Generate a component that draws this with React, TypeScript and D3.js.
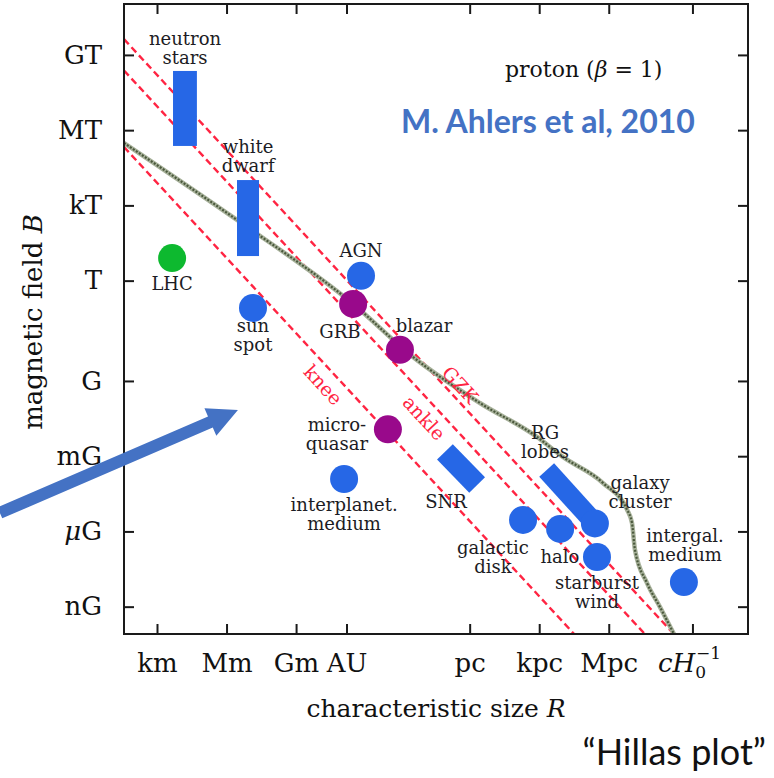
import * as d3 from "d3";

// axis ticks: log10 of B in gauss, log10 of R in metres
const yTickLabels = ["GT", "MT", "kT", "T", "G", "mG", "μG", "nG"];
const yTickLogB = [13, 10, 7, 4, 0, -3, -6, -9];
const xTickLabels = ["km", "Mm", "Gm", "AU", "pc", "kpc", "Mpc", "cH0"];
const xTickLogR = [3, 6, 9, 11.175, 16.489, 19.489, 22.489, 26.1];

// Hillas limits, log10(E / eV)
const limitNames = ["knee", "ankle", "GZK"];
const limitLogE = [15.38, 18.43, 19.68];
const limitLabelR = [10.14, 14.5, 16.05];
const limitLabelB = [-0.14, -1.46, -0.14];

// energy-loss curve
const lossR = [1.555, 6.43, 11.44, 14.02, 16.91, 19.37, 20.49, 22.22, 23.26, 23.47, 23.6, 24.12, 24.68, 25.28];
const lossB = [9.51, 6.44, 3.09, 0.98, -0.86, -2.21, -3.01, -4.05, -5.12, -5.64, -6.72, -8.04, -9.0, -10.07];

// compact objects as boxes
const boxNames = ["neutron stars", "white dwarf"];
const boxR0 = [3.67, 6.43];
const boxR1 = [4.7, 7.38];
const boxB0 = [9.39, 5.0];
const boxB1 = [12.38, 8.03];

// extended objects drawn as tilted bands
const bandNames = ["SNR", "RG lobes"];
const bandR0 = [15.4, 19.79];
const bandB0 = [-2.81, -3.53];
const bandR1 = [16.79, 21.66];
const bandB1 = [-4.13, -5.44];

const dotNames = ["LHC", "sun spot", "AGN", "GRB", "blazar", "micro-quasar", "interplanet. medium", "galactic disk", "halo", "galaxy cluster", "starburst wind", "intergal. medium"];
const dotR = [3.63, 7.12, 11.78, 11.44, 13.46, 12.94, 11.05, 18.77, 20.37, 21.87, 21.96, 25.71];
const dotB = [4.92, 2.93, 4.21, 3.09, 1.26, -1.91, -3.89, -5.52, -5.88, -5.66, -7.0, -8.0];
const dotKind = ["lab", "src", "src", "jet", "jet", "jet", "src", "src", "src", "src", "src", "src"];

// object labels (first baseline anchor, data coords)
const labelLines = [
  ["neutron", "stars"], ["white", "dwarf"], ["LHC"], ["sun", "spot"], ["AGN"], ["GRB"], ["blazar"],
  ["micro-", "quasar"], ["interplanet.", "medium"], ["SNR"], ["galactic", "disk"], ["halo"],
  ["RG", "lobes"], ["galaxy", "cluster"], ["intergal.", "medium"], ["starburst", "wind"],
];
const labelR = [4.19, 6.91, 3.63, 7.12, 11.78, 10.87, 14.5, 10.74, 11.05, 15.45, 17.47, 20.36, 19.72, 23.82, 25.76, 21.96];
const labelB = [13.42, 9.1, 3.65, 1.97, 4.96, 1.74, 1.97, -1.97, -5.18, -5.04, -6.88, -7.24, -2.29, -4.29, -6.4, -8.27];

const arrowR = [-3.8, 6.47];
const arrowB = [-5.24, -1.14];

const W = 774;
const H = 778;
const left = 124;
const right = 748;
const top = 4;
const bottom = 634;

const serif = "'DejaVu Serif', serif";
const colors = { src: "#2667e6", jet: "#99098b", lab: "#0db92f" };
const red = "#ff2442";

export default function App() {
  const x = d3.scaleLinear().domain([1.555, 28.475]).range([left, right]);
  const y = d3.scaleLinear().domain([15.05, -10.07]).range([top, bottom]);

  const [r0, r1] = x.domain();
  const angle = (Math.atan2(y(-1) - y(0), x(1) - x(0)) * 180) / Math.PI;

  const lossLine = d3
    .line<number>()
    .x((_, i) => x(lossR[i]))
    .y((d) => y(d))
    .curve(d3.curveMonotoneX);

  // arrow polygon
  const ax0 = x(arrowR[0]);
  const ay0 = y(arrowB[0]);
  const ax1 = x(arrowR[1]);
  const ay1 = y(arrowB[1]);
  const len = Math.hypot(ax1 - ax0, ay1 - ay0);
  const ux = (ax1 - ax0) / len;
  const uy = (ay1 - ay0) / len;
  const nx = -uy;
  const ny = ux;
  const headL = 30;
  const bx = ax1 - ux * headL;
  const by = ay1 - uy * headL;
  const pt = (px: number, py: number, k: number) => `${px + nx * k},${py + ny * k}`;
  const arrowPts = [pt(ax0, ay0, 6), pt(bx, by, 6), pt(bx, by, 15), `${ax1},${ay1}`, pt(bx, by, -15), pt(bx, by, -6), pt(ax0, ay0, -6)].join(" ");

  return (
    <svg width={W} height={H} style={{ position: "absolute", left: 0, top: 0, background: "#fff" }}>
      <defs>
        <clipPath id="plot">
          <rect x={left} y={top} width={right - left} height={bottom - top} />
        </clipPath>
      </defs>

      <g clipPath="url(#plot)">
        {limitNames.map((n, i) => {
          const c = limitLogE[i] - 4.477;
          return (
            <line
              key={n}
              x1={x(r0)}
              y1={y(c - r0)}
              x2={x(r1)}
              y2={y(c - r1)}
              stroke={red}
              strokeWidth={2.4}
              strokeDasharray="7 4"
            />
          );
        })}
        <path d={lossLine(lossB) ?? ""} fill="none" stroke="#a7b19a" strokeWidth={4.5} />
        <path d={lossLine(lossB) ?? ""} fill="none" stroke="#4a583c" strokeWidth={2.2} strokeDasharray="2 1.6" />

        {boxNames.map((n, i) => (
          <rect
            key={n}
            x={x(boxR0[i])}
            y={y(boxB1[i])}
            width={x(boxR1[i]) - x(boxR0[i])}
            height={y(boxB0[i]) - y(boxB1[i])}
            fill={colors.src}
          />
        ))}
        {bandNames.map((n, i) => (
          <line
            key={n}
            x1={x(bandR0[i])}
            y1={y(bandB0[i])}
            x2={x(bandR1[i])}
            y2={y(bandB1[i])}
            stroke={colors.src}
            strokeWidth={i === 0 ? 22 : 20}
          />
        ))}
        {dotNames.map((n, i) => (
          <circle key={n} cx={x(dotR[i])} cy={y(dotB[i])} r={14} fill={colors[dotKind[i] as keyof typeof colors]} />
        ))}
      </g>

      {labelLines.map((lines, i) => (
        <text key={i} x={x(labelR[i])} y={y(labelB[i])} textAnchor="middle" fontFamily={serif} fontSize={18} fill="#1c1c24">
          {lines.map((t, j) => (
            <tspan key={j} x={x(labelR[i])} dy={j === 0 ? 0 : 19}>
              {t}
            </tspan>
          ))}
        </text>
      ))}

      {limitNames.map((n, i) => (
        <text
          key={n}
          transform={`translate(${x(limitLabelR[i])},${y(limitLabelB[i])}) rotate(${angle})`}
          textAnchor="middle"
          dy="0.35em"
          fontFamily={serif}
          fontSize={19}
          fill={red}
        >
          {n}
        </text>
      ))}

      {/* frame and ticks */}
      <rect x={left} y={top} width={right - left} height={bottom - top} fill="none" stroke="#1a1a1a" strokeWidth={2} />
      {yTickLogB.map((v) => (
        <g key={v} stroke="#1a1a1a" strokeWidth={2}>
          <line x1={left} x2={left + 10} y1={y(v)} y2={y(v)} />
          <line x1={right} x2={right - 10} y1={y(v)} y2={y(v)} />
        </g>
      ))}
      {xTickLogR.map((v) => (
        <g key={v} stroke="#1a1a1a" strokeWidth={2}>
          <line x1={x(v)} x2={x(v)} y1={bottom} y2={bottom - 10} />
          <line x1={x(v)} x2={x(v)} y1={top} y2={top + 10} />
        </g>
      ))}

      {yTickLabels.map((t, i) => (
        <text key={t} x={102} y={y(yTickLogB[i]) - 1} dy="0.35em" textAnchor="end" fontFamily={serif} fontSize={26} fill="#111">
          {t === "μG" ? (
            <>
              <tspan fontStyle="italic">μ</tspan>G
            </>
          ) : (
            t
          )}
        </text>
      ))}
      {xTickLabels.map((t, i) =>
        t === "cH0" ? (
          <text key={t} x={x(xTickLogR[i]) - 35} y={672} fontFamily={serif} fontSize={26} fill="#111">
            <tspan fontStyle="italic">cH</tspan>
            <tspan fontSize={17} dy={6}>
              0
            </tspan>
            <tspan fontSize={17} dx={-10} dy={-19}>
              −1
            </tspan>
          </text>
        ) : (
          <text key={t} x={x(xTickLogR[i])} y={672} textAnchor="middle" fontFamily={serif} fontSize={26} fill="#111">
            {t}
          </text>
        ),
      )}

      <text x={(left + right) / 2} y={717} textAnchor="middle" fontFamily={serif} fontSize={25} fill="#111">
        characteristic size <tspan fontStyle="italic">R</tspan>
      </text>
      <text transform="translate(42,322) rotate(-90)" textAnchor="middle" fontFamily={serif} fontSize={26} fill="#111">
        magnetic field <tspan fontStyle="italic">B</tspan>
      </text>

      <text x={505} y={77} fontFamily={serif} fontSize={22} fill="#111">
        proton (<tspan fontStyle="italic">β</tspan> = 1)
      </text>
      <text x={401} y={133} fontFamily="Lato, sans-serif" fontWeight="bold" fontSize={32} fill="#4472c4">
        M. Ahlers et al, 2010
      </text>
      <text x={766} y={765} textAnchor="end" fontFamily="Lato, sans-serif" fontSize={36} fill="#111">
        “Hillas plot”
      </text>

      <polygon points={arrowPts} fill="#4472c4" />
    </svg>
  );
}
